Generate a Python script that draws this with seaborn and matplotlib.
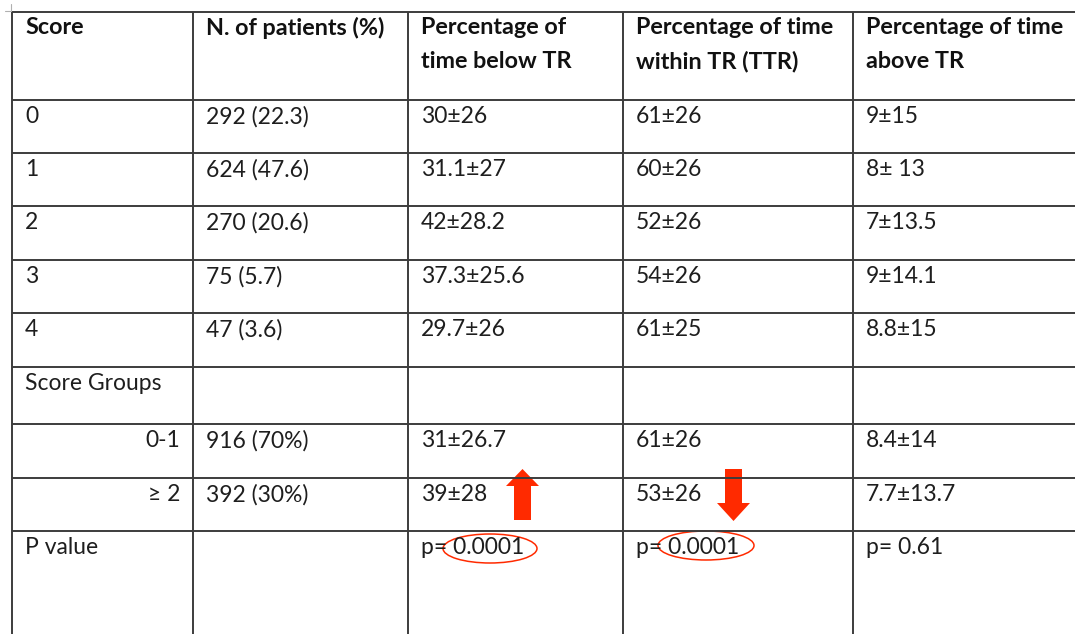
import matplotlib.pyplot as plt
import seaborn as sns
from matplotlib.patches import Ellipse, FancyArrow

# Table contents
headers = ["Score", "N. of patients (%)", "Percentage of\ntime below TR",
           "Percentage of time\nwithin TR (TTR)", "Percentage of time\nabove TR"]
scores = ["0", "1", "2", "3", "4"]
n_patients = ["292 (22.3)", "624 (47.6)", "270 (20.6)", "75 (5.7)", "47 (3.6)"]
below_tr = ["30±26", "31.1±27", "42±28.2", "37.3±25.6", "29.7±26"]
within_tr = ["61±26", "60±26", "52±26", "54±26", "61±25"]
above_tr = ["9±15", "8± 13", "7±13.5", "9±14.1", "8.8±15"]

group_label = "Score Groups"
groups = ["0-1", "≥ 2"]
group_n = ["916 (70%)", "392 (30%)"]
group_below = ["31±26.7", "39±28"]
group_within = ["61±26", "53±26"]
group_above = ["8.4±14", "7.7±13.7"]

p_label = "P value"
p_values = ["p= 0.0001", "p= 0.0001", "p= 0.61"]

sns.set_style("white")
plt.rcParams['font.family'] = ['Lato', 'DejaVu Sans']

W, H = 1075, 634
fig = plt.figure(figsize=(10.75, 6.34), dpi=100)
ax = fig.add_axes([0, 0, 1, 1])
ax.set_xlim(0, W)
ax.set_ylim(H, 0)
ax.axis("off")

# layout (pixels)
col_x = [12, 193, 408, 623, 853]
row_y = [12, 100, 153, 206, 260, 313, 367, 424, 478, 531]
line_col = "#3c3c3c"
txt_col = "#1e1e1e"
fs = 16.5
pad = 13
dy = 16.5

# grid lines
for y in row_y:
    ax.plot([col_x[0], W], [y, y], color=line_col, lw=1.4, solid_capstyle="butt")
for x in col_x:
    ax.plot([x, x], [row_y[0], H], color=line_col, lw=1.4, solid_capstyle="butt")

# little word corner mark
ax.plot([5, 11, 11], [11, 11, 4], color="#b0b0b0", lw=0.8)

# header
for x, h in zip(col_x, headers):
    lines = h.split("\n")
    for i, ln in enumerate(lines):
        ax.text(x + pad, 28 + i * 33, ln, fontsize=16.8, fontweight="bold",
                color="#111111", va="center", ha="left")

# score rows
cols = [scores, n_patients, below_tr, within_tr, above_tr]
for r in range(len(scores)):
    y = row_y[r + 1] + dy
    for c, vals in enumerate(cols):
        ax.text(col_x[c] + pad, y, vals[r], fontsize=fs, color=txt_col, va="center")

# score groups
ax.text(col_x[0] + pad, row_y[6] + dy, group_label, fontsize=fs, color=txt_col, va="center")
gcols = [group_n, group_below, group_within, group_above]
for r in range(len(groups)):
    y = row_y[7 + r] + dy
    ax.text(col_x[1] - pad, y, groups[r], fontsize=fs, color=txt_col, va="center", ha="right")
    for c, vals in enumerate(gcols):
        ax.text(col_x[c + 1] + pad, y, vals[r], fontsize=fs, color=txt_col, va="center")

# p values
y = row_y[9] + dy
ax.text(col_x[0] + pad, y, p_label, fontsize=fs, color=txt_col, va="center")
for c, p in enumerate(p_values):
    ax.text(col_x[c + 2] + pad, y, p, fontsize=fs, color=txt_col, va="center")

# annotations: arrows and circles
red = "#ff2a00"
ax.add_patch(FancyArrow(522.5, 520, 0, -51, width=17, head_width=33, head_length=17,
                        length_includes_head=True, color=red, lw=0))
ax.add_patch(FancyArrow(733.5, 469, 0, 52, width=17, head_width=33, head_length=18,
                        length_includes_head=True, color=red, lw=0))
ax.add_patch(Ellipse((490, 548.5), 94, 29, fill=False, edgecolor=red, lw=1.1))
ax.add_patch(Ellipse((706, 545.5), 96, 29, fill=False, edgecolor=red, lw=1.1))

fig.savefig("out.png", dpi=100, facecolor="white")
